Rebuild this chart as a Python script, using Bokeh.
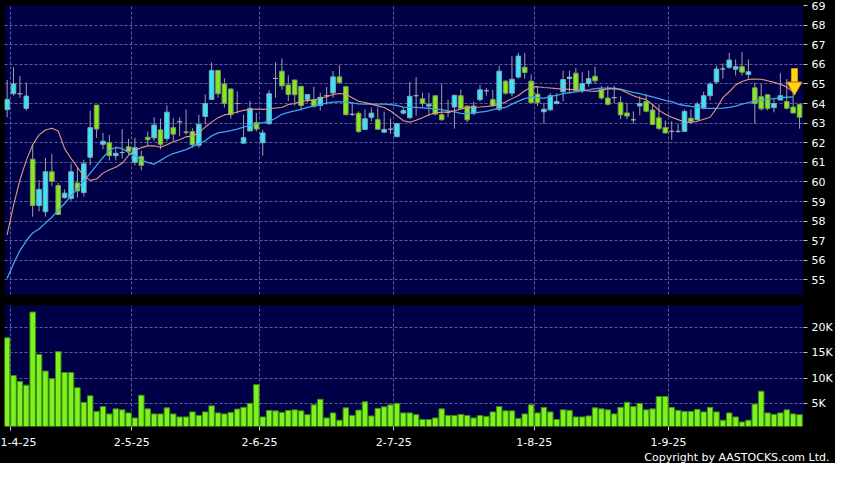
from bokeh.plotting import figure
from bokeh.layouts import column
from bokeh.models import ColumnDataSource, FixedTicker, Range1d, Title
from bokeh.embed import file_html
from bokeh.resources import INLINE

# ---------------- data ----------------
month_start_idx = [1, 20, 40, 61, 83, 104]
month_labels = ["1-4-25", "2-5-25", "2-6-25", "2-7-25", "1-8-25", "1-9-25"]

open_ = [63.69, 64.5, 64.5, 63.75, 61.16, 58.8, 58.48, 60.52, 59.82, 59.2,
         59.16, 59.95, 59.46, 61.26, 63.92, 61.92, 62.0, 61.34, 61.5, 61.79,
         61.0, 61.3, 62.28, 62.25, 62.66, 62.21, 62.77, 63.07, 62.54, 62.57,
         61.87, 63.34, 64.21, 65.69, 65.0, 64.74, 64.0, 61.98, 62.6, 63.03,
         62.0, 62.98, 65.28, 65.65, 64.95, 65.2, 64.88, 64.21, 64.2, 63.9,
         64.4, 64.54, 65.36, 64.86, 63.45, 63.5, 62.68, 63.3, 63.18, 62.54,
         62.69, 62.31, 63.51, 63.28, 64.4, 64.24, 63.87, 64.4, 63.43, 63.55,
         63.82, 64.4, 63.87, 63.5, 64.2, 64.65, 64.2, 63.71, 65.14, 64.53,
         65.35, 65.85, 65.14, 64.48, 63.58, 63.68, 64.0, 64.6, 65.27, 65.55,
         64.65, 65.02, 65.39, 64.73, 64.28, 64.3, 64.05, 63.52, 63.17, 63.88,
         64.1, 63.67, 63.27, 62.77, 62.58, 62.58, 62.58, 63.25, 63.18, 63.8,
         64.4, 65.1, 65.76, 65.85, 65.75, 65.88, 65.48, 64.8, 64.35, 64.45,
         63.79, 64.18, 64.1, 63.82, 63.96]
high = [65.2, 65.85, 65.4, 65.07, 61.92, 60.1, 61.23, 61.43, 59.95, 59.62,
        60.93, 60.77, 61.13, 63.64, 63.92, 62.5, 62.4, 61.75, 62.7, 62.2,
        62.25, 61.59, 62.57, 63.3, 63.23, 63.9, 63.25, 63.3, 63.7, 62.74,
        63.43, 64.46, 66.1, 65.69, 65.28, 64.79, 64.62, 63.43, 64.13, 63.52,
        62.66, 64.69, 66.1, 66.3, 65.44, 65.2, 64.88, 64.46, 64.86, 64.55,
        64.85, 65.66, 65.95, 64.9, 64.07, 63.6, 63.7, 63.8, 63.8, 63.59,
        63.23, 62.98, 63.8, 65.1, 65.35, 64.55, 64.55, 64.4, 64.99, 64.2,
        64.45, 64.72, 63.87, 64.1, 64.95, 64.8, 64.7, 65.93, 65.19, 66.42,
        66.59, 66.59, 65.49, 64.86, 64.04, 64.53, 64.53, 65.68, 65.68, 65.81,
        65.6, 65.68, 65.88, 64.9, 64.9, 64.9, 64.37, 64.04, 63.6, 64.37,
        64.5, 63.96, 63.96, 63.14, 63.1, 62.95, 63.7, 63.7, 64.07, 64.61,
        65.1, 65.92, 66.04, 66.58, 66.25, 66.63, 66.25, 65.06, 65.0, 64.45,
        64.28, 65.55, 65.25, 64.75, 63.96]
low = [63.3, 64.4, 64.3, 63.64, 58.23, 58.5, 58.23, 59.79, 58.34, 59.15,
       59.05, 59.2, 59.26, 60.85, 62.25, 61.67, 61.1, 61.1, 61.2, 61.4,
       60.85, 60.6, 61.84, 62.08, 61.67, 62.08, 62.1, 62.33, 62.4, 61.75,
       61.75, 62.93, 64.21, 64.3, 63.8, 63.23, 63.48, 61.98, 62.6, 62.57,
       61.34, 62.9, 64.3, 64.7, 64.13, 63.9, 63.64, 64.05, 63.8, 63.64,
       63.95, 64.3, 65.0, 63.4, 63.36, 62.5, 62.65, 63.1, 62.65, 62.49,
       62.45, 62.28, 63.45, 63.2, 63.38, 63.8, 63.39, 63.39, 63.13, 63.3,
       62.72, 63.7, 63.05, 63.4, 64.1, 64.4, 63.85, 63.62, 64.45, 64.37,
       65.27, 65.27, 64.04, 63.87, 62.97, 63.63, 63.96, 64.12, 64.57, 64.61,
       64.53, 64.86, 65.0, 64.2, 63.9, 64.0, 63.2, 63.2, 62.97, 63.4,
       63.55, 62.89, 62.64, 62.48, 62.15, 62.5, 62.55, 62.98, 63.13, 63.7,
       64.17, 65.0, 65.27, 65.77, 65.43, 65.43, 65.27, 62.97, 63.65, 63.65,
       63.55, 64.18, 63.7, 63.48, 62.72]
close = [64.21, 65.0, 64.5, 64.38, 58.8, 59.62, 60.52, 60.03, 58.34, 59.43,
         60.52, 59.54, 60.93, 62.77, 62.7, 62.08, 61.34, 61.46, 61.5, 61.56,
         61.75, 60.85, 62.15, 62.9, 61.92, 63.56, 62.44, 63.07, 62.54, 61.89,
         62.93, 64.0, 65.69, 64.5, 64.0, 63.43, 64.0, 62.26, 63.75, 62.7,
         62.5, 64.5, 65.28, 64.9, 64.46, 64.45, 63.9, 64.46, 63.85, 64.32,
         64.4, 65.36, 65.07, 63.43, 63.45, 62.57, 63.22, 63.51, 62.69, 62.68,
         62.69, 62.98, 63.64, 64.37, 64.4, 64.0, 63.96, 63.46, 63.17, 63.55,
         64.42, 63.74, 63.17, 63.87, 64.7, 64.65, 63.9, 65.65, 64.53, 65.24,
         66.42, 65.58, 64.04, 64.04, 63.71, 64.4, 64.1, 65.22, 65.35, 64.65,
         65.02, 65.27, 65.16, 64.28, 63.96, 64.3, 63.42, 63.36, 63.17, 64.0,
         63.61, 62.93, 62.73, 62.5, 62.58, 62.58, 63.6, 63.07, 63.96, 64.4,
         64.99, 65.76, 65.76, 66.22, 65.88, 65.6, 65.62, 64.0, 63.73, 63.75,
         64.0, 64.4, 63.76, 63.52, 63.3]
volume_k = [18.0, 10.5, 9.35, 8.6, 23.1, 14.7, 11.4, 9.9, 15.25, 11.1,
            11.1, 8.1, 5.2, 6.5, 3.4, 4.35, 2.9, 3.9, 3.7, 3.1,
            2.1, 6.6, 3.9, 2.9, 2.9, 4.1, 2.9, 2.3, 2.3, 3.3,
            2.6, 3.3, 4.5, 3.1, 2.9, 3.2, 3.85, 4.2, 5.0, 8.7,
            2.3, 3.6, 3.5, 3.2, 3.6, 3.7, 3.5, 2.75, 4.7, 5.8,
            2.1, 3.1, 1.65, 4.1, 2.6, 3.65, 5.3, 2.5, 4.0, 4.3,
            4.7, 5.0, 3.1, 3.1, 2.75, 1.8, 1.8, 2.1, 3.9, 2.6,
            2.6, 2.8, 2.6, 2.1, 2.6, 2.4, 3.3, 4.35, 3.5, 3.5,
            2.0, 2.9, 4.7, 3.1, 4.2, 3.3, 1.8, 3.7, 3.6, 2.3,
            2.3, 2.5, 4.1, 3.9, 3.7, 2.9, 4.2, 5.2, 4.35, 5.0,
            3.7, 3.9, 6.35, 6.35, 4.2, 3.6, 3.4, 3.4, 3.8, 3.3,
            4.2, 3.3, 1.65, 3.1, 2.3, 1.3, 1.65, 4.85, 7.4, 3.1,
            2.8, 3.1, 3.7, 2.9, 2.75]
ma_short = [57.3, 58.8, 60.1, 61.1, 61.9, 62.4, 62.65, 62.74, 62.6, 61.7,
            61.2, 60.75, 60.3, 60.08, 60.15, 60.45, 60.62, 60.75, 60.95, 61.35,
            61.6, 61.75, 61.84, 61.85, 61.77, 61.9, 62.05, 62.15, 62.3, 62.35,
            62.5, 62.8, 63.05, 63.28, 63.42, 63.48, 63.57, 63.65, 63.7, 63.72,
            63.7, 63.72, 63.77, 63.8, 63.95, 64.0, 64.12, 64.15, 64.18, 64.28,
            64.35, 64.46, 64.51, 64.48, 64.3, 64.12, 64.05, 63.97, 63.88, 63.8,
            63.62, 63.38, 63.12, 63.05, 63.15, 63.28, 63.43, 63.52, 63.56, 63.56,
            63.63, 63.72, 63.79, 63.8, 63.82, 63.85, 63.88, 63.95, 64.08, 64.25,
            64.41, 64.65, 64.83, 64.86, 64.82, 64.79, 64.76, 64.74, 64.72, 64.7,
            64.68, 64.64, 64.62, 64.67, 64.75, 64.75, 64.7, 64.55, 64.4, 64.28,
            64.2, 63.95, 63.65, 63.45, 63.3, 63.18, 63.06, 63.03, 63.1, 63.2,
            63.3, 63.75, 64.3, 64.6, 64.95, 65.12, 65.23, 65.25, 65.24, 65.16,
            65.08, 64.98, 64.85, 64.58]
ma_long = [55.07, 55.83, 56.5, 57.0, 57.4, 57.6, 57.9, 58.2, 58.55, 58.9,
           59.3, 59.65, 60.05, 60.45, 60.85, 61.25, 61.6, 61.77, 61.7, 61.5,
           61.35, 61.12, 61.0, 60.9, 61.1, 61.3, 61.45, 61.55, 61.65, 61.8,
           61.95, 62.1, 62.35, 62.5, 62.56, 62.62, 62.7, 62.8, 62.88, 62.95,
           63.03, 63.08, 63.25, 63.45, 63.55, 63.62, 63.7, 63.8, 63.88, 63.96,
           64.02, 64.07, 64.08, 64.08, 64.03, 63.98, 63.97, 63.97, 63.97, 63.97,
           63.94, 63.9, 63.82, 63.8, 63.8, 63.78, 63.76, 63.72, 63.69, 63.63,
           63.58, 63.5, 63.49, 63.52, 63.56, 63.6, 63.69, 63.75, 63.8, 63.97,
           64.12, 64.25, 64.33, 64.3, 64.26, 64.36, 64.42, 64.5, 64.55, 64.6,
           64.65, 64.7, 64.76, 64.79, 64.79, 64.78, 64.74, 64.65, 64.57, 64.51,
           64.42, 64.34, 64.25, 64.16, 64.1, 63.97, 63.9, 63.85, 63.8, 63.75,
           63.75, 63.75, 63.77, 63.8, 63.87, 63.97, 64.05, 64.13, 64.17, 64.21,
           64.25, 64.3, 64.32, 64.34]
price_ticks = list(range(55, 70))
volume_ticks = [5, 10, 15, 20]
arrow_idx = [123.2]
arrow_tip = [64.6]

# ---------------- styling ----------------
NAVY = "#000048"
GRID = "#5E5E92"
UP_FILL, UP_LINE = "#36E6F6", "#7FA8B8"
DN_FILL, DN_LINE = "#84EA1E", "#7E9C5A"
DOJI = "#A8A8A8"
FONT = "DejaVu Sans"

n = len(close)
idx = list(range(n))
fills, lines, tops, bots = [], [], [], []
for o, c in zip(open_, close):
    tops.append(max(o, c))
    bots.append(min(o, c))
    if c > o:
        fills.append(UP_FILL); lines.append(UP_LINE)
    elif c < o:
        fills.append(DN_FILL); lines.append(DN_LINE)
    else:
        fills.append(None); lines.append(DOJI)

src = ColumnDataSource(dict(x=idx, high=high, low=low, top=tops, bottom=bots,
                            fill=fills, line=lines, vol=volume_k))
ma_src = ColumnDataSource(dict(x=list(range(len(ma_short))), s=ma_short, l=ma_long))

x_range = Range1d(-0.41, 124.62)
grid_x = [i - 0.5 for i in month_start_idx]


def style(p):
    p.background_fill_color = NAVY
    p.border_fill_color = "black"
    p.outline_line_color = None
    for g in list(p.xgrid) + list(p.ygrid):
        g.grid_line_color = GRID
        g.grid_line_dash = "3 2"
        g.grid_line_width = 1
    p.xgrid.ticker = FixedTicker(ticks=grid_x)


def style_axis(ax):
    ax.axis_line_color = None
    ax.major_tick_line_color = "#C8C8C8"
    ax.major_tick_out = 4
    ax.major_tick_in = 0
    ax.minor_tick_line_color = None
    ax.major_label_text_color = "white"
    ax.major_label_text_font = FONT
    ax.major_label_text_font_size = "11px"
    ax.major_label_standoff = 4


# price panel
p1 = figure(frame_width=799, frame_height=289, x_range=x_range,
            y_range=Range1d(54.26, 69.0), x_axis_location=None,
            y_axis_location="right", output_backend="svg",
            toolbar_location=None, title=None,
            min_border_left=4, min_border_right=31, min_border_top=5,
            min_border_bottom=6)
style(p1)
p1.ygrid.ticker = FixedTicker(ticks=price_ticks)
style_axis(p1.yaxis[0])
p1.yaxis[0].ticker = FixedTicker(ticks=price_ticks)

p1.segment(x0="x", y0="low", x1="x", y1="high", source=src,
           line_color="#A0A0A0", line_width=1)
p1.vbar(x="x", width=0.72, top="top", bottom="bottom", source=src,
        fill_color="fill", line_color="line", line_width=1)
p1.line("x", "l", source=ma_src, line_color="#3FA6E6", line_width=1.3)
p1.line("x", "s", source=ma_src, line_color="#E09A78", line_width=1.1)

# marker arrow at the latest bar
shaft_y = [t + 0.85 for t in arrow_tip]
head_y = [t + 0.27 for t in arrow_tip]
p1.rect(x=arrow_idx, y=shaft_y, width=6, height=13, width_units="screen",
        height_units="screen", fill_color="#FFD21C", line_color="#E89A00",
        line_width=1)
p1.scatter(x=arrow_idx, y=head_y, marker="inverted_triangle", size=15,
           fill_color="#FFD21C", line_color="#E89A00", line_width=1)

# volume panel
p2 = figure(frame_width=799, frame_height=121, x_range=x_range,
            y_range=Range1d(0.4, 24.4), x_axis_location="below",
            y_axis_location="right", output_backend="svg",
            toolbar_location=None, title=None,
            min_border_left=4, min_border_right=31, min_border_top=5,
            min_border_bottom=8)
style(p2)
p2.ygrid.ticker = FixedTicker(ticks=volume_ticks)
style_axis(p2.yaxis[0])
p2.yaxis[0].ticker = FixedTicker(ticks=volume_ticks)
p2.yaxis[0].major_label_overrides = {t: f"{t}K" for t in volume_ticks}
style_axis(p2.xaxis[0])
p2.xaxis[0].ticker = FixedTicker(ticks=grid_x)
p2.xaxis[0].major_label_overrides = {t: lab for t, lab in zip(grid_x, month_labels)}
p2.xaxis[0].major_label_standoff = 7

p2.vbar(x="x", width=0.86, top="vol", bottom=0, source=src,
        fill_color="#7DF21F", line_color="#3F8A10", line_width=1)

p2.add_layout(Title(text="Copyright by AASTOCKS.com Ltd.", align="right",
                    text_color="white", text_font=FONT, text_font_size="11px",
                    text_font_style="normal", offset=-26, standoff=0), "below")

layout = column(p1, p2, spacing=0, styles={"background-color": "black"})
open("out.html", "w").write(file_html(layout, INLINE))
